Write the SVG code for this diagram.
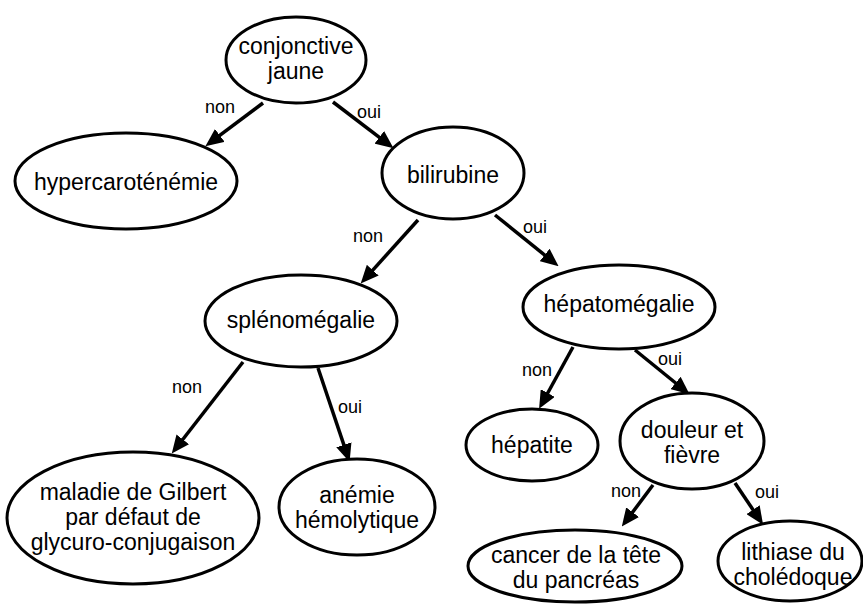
<svg xmlns="http://www.w3.org/2000/svg" width="863" height="606" viewBox="0 0 863 606">
<style>
.n ellipse{fill:#fff;stroke:#000;stroke-width:3}
.n text{font-family:"Liberation Sans",Arial,sans-serif;font-size:23px;fill:#000;text-anchor:middle}
.e line{stroke:#000;stroke-width:3.5;marker-end:url(#ah)}
.e text{font-family:"Liberation Sans",Arial,sans-serif;font-size:18px;fill:#000}
</style>
<defs>
<marker id="ah" markerUnits="userSpaceOnUse" markerWidth="18" markerHeight="16" refX="8" refY="8" orient="auto">
<path d="M0,0 L18,8 L0,16 z" fill="#000"/>
</marker>
</defs>
<rect width="863" height="606" fill="#fff"/>
<g class="e" id="connectors">
<line x1="263" y1="103" x2="213.4" y2="140.2"/>
<line x1="333" y1="102" x2="385.6" y2="142.2"/>
<line x1="418" y1="220" x2="367.4" y2="276.1"/>
<line x1="495" y1="215" x2="550.8" y2="260"/>
<line x1="243" y1="362" x2="177.9" y2="445.7"/>
<line x1="318" y1="368" x2="346.4" y2="452.4"/>
<line x1="573" y1="347" x2="543.9" y2="400"/>
<line x1="635" y1="350" x2="681.8" y2="388"/>
<line x1="653" y1="485" x2="627.8" y2="518.6"/>
<line x1="735" y1="483" x2="757.5" y2="516.4"/>
<text x="205" y="113">non</text>
<text x="357" y="118">oui</text>
<text x="353" y="242">non</text>
<text x="523" y="233">oui</text>
<text x="172" y="393">non</text>
<text x="338" y="413">oui</text>
<text x="522" y="376">non</text>
<text x="658" y="365">oui</text>
<text x="611" y="497">non</text>
<text x="755" y="498">oui</text>
</g>
<g class="n" id="conjonctive"><ellipse cx="296" cy="60" rx="70" ry="43"/><text x="296" y="54">conjonctive</text><text x="296" y="79">jaune</text></g>
<g class="n" id="hypercarotenemie"><ellipse cx="126" cy="181" rx="111" ry="48"/><text x="126" y="190">hypercaroténémie</text></g>
<g class="n" id="bilirubine"><ellipse cx="453" cy="173" rx="71" ry="46"/><text x="453" y="183">bilirubine</text></g>
<g class="n" id="splenomegalie"><ellipse cx="301" cy="321" rx="96" ry="46"/><text x="301" y="328">splénomégalie</text></g>
<g class="n" id="hepatomegalie"><ellipse cx="619" cy="307" rx="96" ry="42"/><text x="619" y="312">hépatomégalie</text></g>
<g class="n" id="hepatite"><ellipse cx="532" cy="445" rx="66" ry="36"/><text x="532" y="453">hépatite</text></g>
<g class="n" id="douleur"><ellipse cx="692" cy="441" rx="72" ry="48"/><text x="692" y="438">douleur et</text><text x="692" y="463">fièvre</text></g>
<g class="n" id="gilbert"><ellipse cx="133" cy="518" rx="126" ry="66"/><text x="133" y="500">maladie de Gilbert</text><text x="133" y="525">par défaut de</text><text x="133" y="550">glycuro-conjugaison</text></g>
<g class="n" id="anemie"><ellipse cx="357" cy="507" rx="78" ry="48"/><text x="357" y="503">anémie</text><text x="357" y="528">hémolytique</text></g>
<g class="n" id="cancer"><ellipse cx="575" cy="566" rx="107" ry="36"/><text x="576" y="563">cancer de la tête</text><text x="576" y="588">du pancréas</text></g>
<g class="n" id="lithiase"><ellipse cx="790" cy="561" rx="72" ry="40"/><text x="793" y="560">lithiase du</text><text x="793" y="585">cholédoque</text></g>
</svg>
